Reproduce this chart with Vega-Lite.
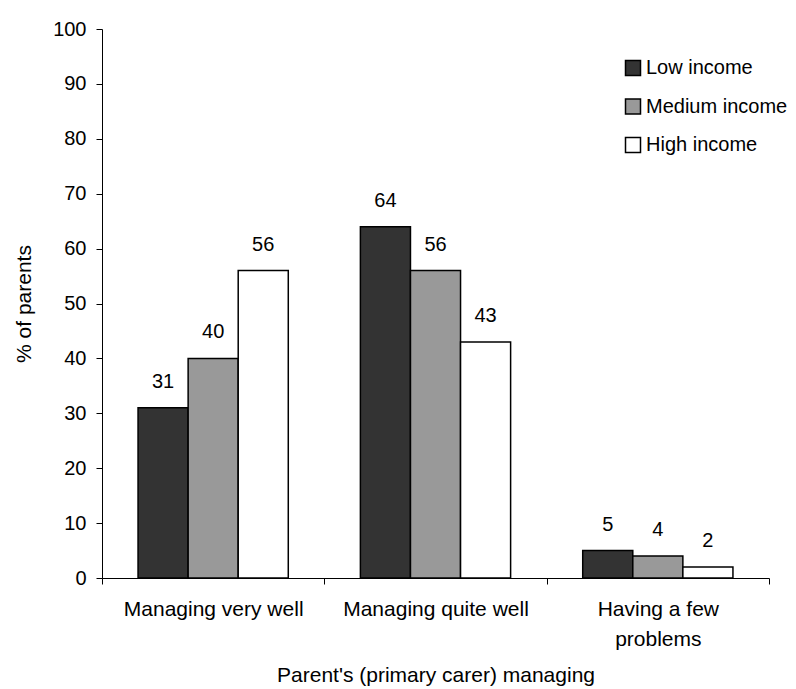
{
  "$schema": "https://vega.github.io/schema/vega-lite/v6.json",
  "width": 667,
  "height": 549,
  "autosize": {"type": "none"},
  "padding": {"left": 102, "top": 29, "right": 27, "bottom": 111},
  "background": "white",
  "config": {
    "font": "Liberation Sans",
    "view": {"stroke": null},
    "axis": {"grid": false, "domainColor": "black", "tickColor": "black", "labelColor": "black", "titleColor": "black", "titleFontWeight": "normal", "tickSize": 6, "domainWidth": 1, "tickWidth": 1},
    "legend": {"labelColor": "black"}
  },
  "data": {
    "values": [
      {"category": "Managing very well", "income": "Low income", "pct": 31},
      {"category": "Managing very well", "income": "Medium income", "pct": 40},
      {"category": "Managing very well", "income": "High income", "pct": 56},
      {"category": "Managing quite well", "income": "Low income", "pct": 64},
      {"category": "Managing quite well", "income": "Medium income", "pct": 56},
      {"category": "Managing quite well", "income": "High income", "pct": 43},
      {"category": "Having a few problems", "income": "Low income", "pct": 5},
      {"category": "Having a few problems", "income": "Medium income", "pct": 4},
      {"category": "Having a few problems", "income": "High income", "pct": 2}
    ]
  },
  "encoding": {
    "x": {
      "field": "category",
      "type": "nominal",
      "sort": ["Managing very well", "Managing quite well", "Having a few problems"],
      "scale": {"paddingInner": 0, "paddingOuter": 0},
      "axis": {
        "tickBand": "extent",
        "labelAngle": 0,
        "labelFontSize": 21,
        "labelPadding": 14,
        "labelLineHeight": 30,
        "labelLimit": 300,
        "labelExpr": "datum.label == 'Having a few problems' ? ['Having a few', 'problems'] : datum.label",
        "title": "Parent's (primary carer) managing",
        "titleFontSize": 21,
        "titlePadding": 15
      }
    },
    "xOffset": {
      "field": "income",
      "type": "nominal",
      "sort": ["Low income", "Medium income", "High income"],
      "scale": {"paddingOuter": 0.72, "paddingInner": 0}
    },
    "y": {
      "field": "pct",
      "type": "quantitative",
      "scale": {"domain": [0, 100]},
      "axis": {
        "values": [0, 10, 20, 30, 40, 50, 60, 70, 80, 90, 100],
        "labelFontSize": 20,
        "labelPadding": 10,
        "title": "% of parents",
        "titleFontSize": 21,
        "titlePadding": 18
      }
    }
  },
  "layer": [
    {
      "mark": {"type": "bar", "stroke": "black", "strokeWidth": 1.5},
      "encoding": {
        "fill": {
          "field": "income",
          "type": "nominal",
          "sort": ["Low income", "Medium income", "High income"],
          "scale": {"domain": ["Low income", "Medium income", "High income"], "range": ["#333333", "#999999", "#ffffff"]},
          "legend": {
            "title": null,
            "orient": "none",
            "legendX": 521,
            "legendY": 29,
            "padding": 0,
            "symbolType": "square",
            "symbolSize": 225,
            "symbolStrokeColor": "black",
            "symbolStrokeWidth": 1.5,
            "symbolOpacity": 1,
            "labelFontSize": 20,
            "labelOffset": 3,
            "rowPadding": 16.5,
            "labelLimit": 300
          }
        }
      }
    },
    {
      "mark": {"type": "text", "fontSize": 20, "dy": -20, "baseline": "alphabetic", "align": "center", "color": "black"},
      "encoding": {
        "text": {"field": "pct", "type": "quantitative"}
      }
    }
  ]
}
